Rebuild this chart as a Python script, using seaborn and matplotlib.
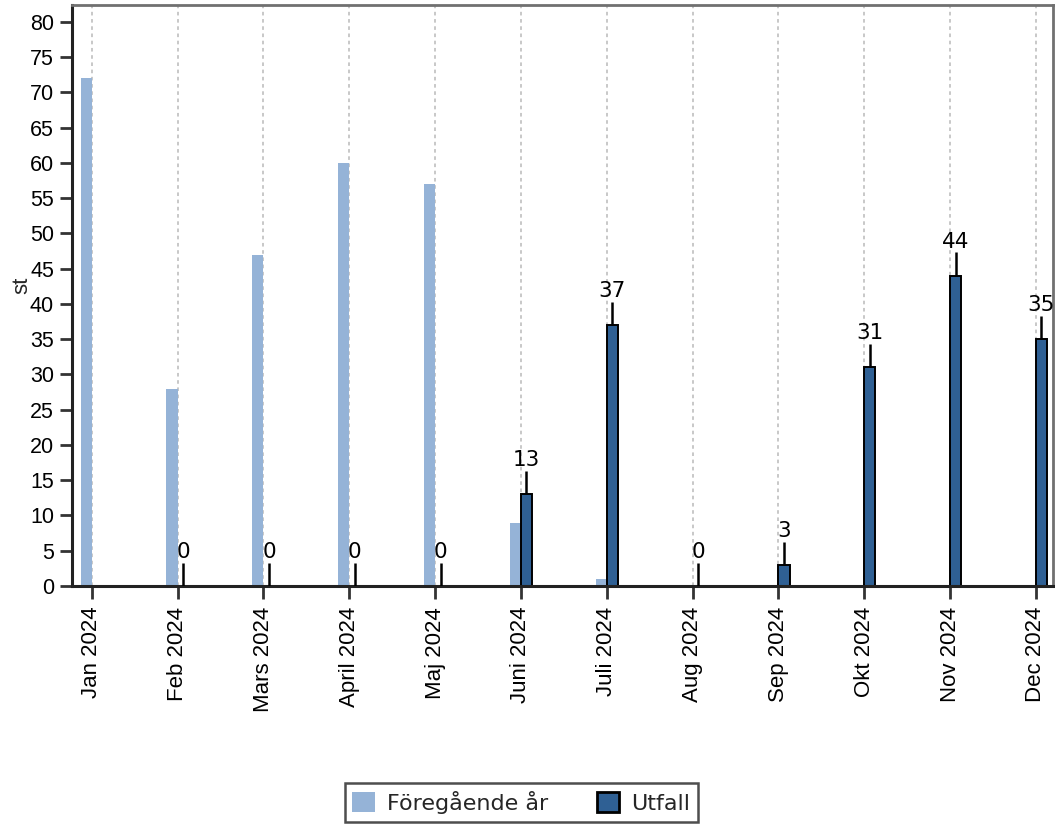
import numpy as np
import pandas as pd
import matplotlib
matplotlib.use("Agg")
import matplotlib.pyplot as plt
from matplotlib.patches import Patch
from matplotlib import font_manager as fm
import seaborn as sns

# ---- data ----
months = ["Jan 2024", "Feb 2024", "Mars 2024", "April 2024", "Maj 2024", "Juni 2024",
          "Juli 2024", "Aug 2024", "Sep 2024", "Okt 2024", "Nov 2024", "Dec 2024"]
foregaende_ar = [72, 28, 47, 60, 57, 9, 1, 0, 0, 0, 0, 0]
utfall = [np.nan, 0, 0, 0, 0, 13, 37, 0, 3, 31, 44, 35]
series_names = ["Föregående år", "Utfall"]
y_ticks = list(range(0, 81, 5))

LIGHT = "#95B3D7"
DARK = "#2F6094"

df = pd.DataFrame({
    "month": months * 2,
    "series": [series_names[0]] * len(months) + [series_names[1]] * len(months),
    "value": foregaende_ar + utfall,
})

sns.set_style("white")
avail = {f.name for f in fm.fontManager.ttflist}
ARIAL = "Liberation Sans" if "Liberation Sans" in avail else "DejaVu Sans"
plt.rcParams["font.family"] = [ARIAL, "DejaVu Sans"]

fig = plt.figure(figsize=(10.55, 8.24), dpi=100)
ax = fig.add_axes([72 / 1055, 1 - 586 / 824, 981 / 1055, 581 / 824])

sns.barplot(data=df, x="month", y="value", hue="series", hue_order=series_names,
            order=months, palette=[LIGHT, DARK], width=0.26, dodge=True,
            errorbar=None, legend=False, ax=ax, saturation=1)

# style bars
for p in ax.containers[0]:
    p.set_edgecolor("none")
    p.set_linewidth(0)
for p in ax.containers[1]:
    p.set_edgecolor("black")
    p.set_linewidth(1.4)

# leader lines + labels for Utfall
off = 0.065
for i, v in enumerate(utfall):
    if np.isnan(v):
        continue
    ax.vlines(i + off, v, v + 3.3, color="black", lw=1.8, zorder=4)
    ax.text(i + off, v + 3.4, f"{int(v)}", ha="center", va="bottom",
            fontsize=15.5, family=["DejaVu Sans"], color="black", zorder=5,
            clip_on=False)

ax.set_xlim(-0.23, 11.2)
ax.set_ylim(0, 82.4)
ax.set_yticks(y_ticks)
ax.set_yticklabels([str(t) for t in y_ticks])

ax.set_axisbelow(True)
ax.xaxis.grid(True, linestyle=(0, (2, 2)), color="#c4c4c4", lw=1.3)
ax.yaxis.grid(False)

ax.set_xlabel("")
ax.set_ylabel("st", fontsize=16, rotation=90, family=[ARIAL])
ax.yaxis.set_label_coords(-0.040, 0.518)

ax.tick_params(axis="x", rotation=90, labelsize=16, length=9, width=2,
               color="#333333", pad=6, bottom=True)
ax.tick_params(axis="y", labelsize=15.5, length=9, width=2, color="#333333",
               pad=4, left=True)
for lab in ax.get_xticklabels() + ax.get_yticklabels():
    lab.set_fontfamily(ARIAL)
    lab.set_color("black")

for s in ["left", "bottom"]:
    ax.spines[s].set_color("#222222")
    ax.spines[s].set_linewidth(2.2)
for s in ["top", "right"]:
    ax.spines[s].set_visible(True)
    ax.spines[s].set_color("#707070")
    ax.spines[s].set_linewidth(2)

handles = [Patch(facecolor=LIGHT, edgecolor="none"),
           Patch(facecolor=DARK, edgecolor="black", linewidth=2)]
leg = fig.legend(handles, series_names, loc="center",
                 bbox_to_anchor=(521.5 / 1055, 1 - 802.5 / 824), ncol=2,
                 frameon=True, fancybox=False, handlelength=1.0, handleheight=1.0,
                 handletextpad=0.55, columnspacing=2.2, borderpad=0.35,
                 prop={"family": ["DejaVu Sans"], "size": 16})
leg.get_frame().set_edgecolor("#222222")
leg.get_frame().set_linewidth(1.8)

fig.savefig("out.png", dpi=100)
